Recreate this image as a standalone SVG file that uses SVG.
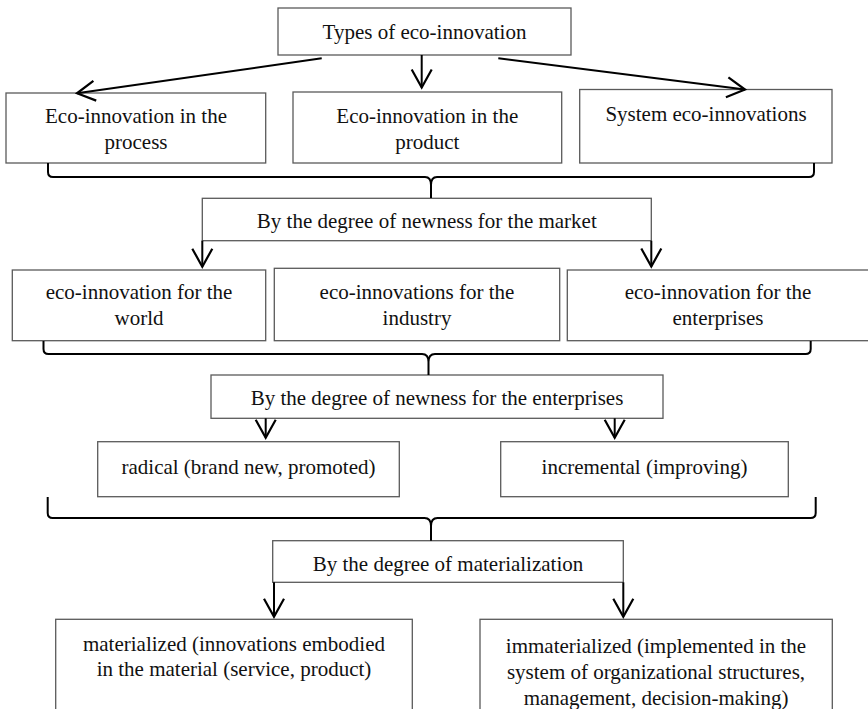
<svg xmlns="http://www.w3.org/2000/svg" width="868" height="709" viewBox="0 0 868 709">
<style>
  .box{fill:#fff;stroke:#5a5a5a;stroke-width:1.3}
  .t{font-family:'Liberation Serif',Tinos,'Times New Roman',Times,'DejaVu Serif',serif;font-size:21px;fill:#111;text-anchor:middle}
  .c{fill:none;stroke:#000;stroke-width:2}
</style>
<defs>
  <marker id="v" viewBox="-21 -12 24 24" refX="0" refY="0" markerWidth="24" markerHeight="24" markerUnits="userSpaceOnUse" orient="auto">
    <path d="M-18,-10 L0,0 L-18,10" fill="none" stroke="#000" stroke-width="2.2"/>
  </marker>
</defs>
<rect width="868" height="709" fill="#fff"/>

<g id="types">
  <rect class="box" x="278" y="8" width="293" height="47"/>
  <text class="t" x="424.5" y="38.5" font-family="Liberation Serif, serif">Types of eco-innovation</text>
</g>
<g id="process">
  <rect class="box" x="6" y="93" width="259.7" height="70"/>
  <text class="t" x="136" y="123">Eco-innovation in the</text>
  <text class="t" x="136" y="148.5">process</text>
</g>
<g id="product">
  <rect class="box" x="293" y="92" width="268.7" height="71"/>
  <text class="t" x="427.3" y="123">Eco-innovation in the</text>
  <text class="t" x="427.3" y="148.5">product</text>
</g>
<g id="system">
  <rect class="box" x="579.7" y="89.5" width="252.3" height="73.5"/>
  <text class="t" x="706" y="121">System eco-innovations</text>
</g>

<g id="market">
  <rect class="box" x="202.3" y="198.3" width="449" height="42.4"/>
  <text class="t" x="426.8" y="227.5">By the degree of newness for the market</text>
</g>
<g id="world">
  <rect class="box" x="12.3" y="270" width="253.4" height="70.7"/>
  <text class="t" x="139" y="298.5">eco-innovation for the</text>
  <text class="t" x="139" y="324.5">world</text>
</g>
<g id="industry">
  <rect class="box" x="274.3" y="268.3" width="285.4" height="72.4"/>
  <text class="t" x="417" y="298.5">eco-innovations for the</text>
  <text class="t" x="417" y="324.5">industry</text>
</g>
<g id="enterprises">
  <rect class="box" x="567.3" y="270" width="302" height="70.7"/>
  <text class="t" x="718" y="298.5">eco-innovation for the</text>
  <text class="t" x="718" y="324.5">enterprises</text>
</g>

<g id="newness-enterprises">
  <rect class="box" x="211" y="375" width="452" height="43.3"/>
  <text class="t" x="437" y="405">By the degree of newness for the enterprises</text>
</g>
<g id="radical">
  <rect class="box" x="97.7" y="441.7" width="301.6" height="55"/>
  <text class="t" x="248.5" y="473.5">radical (brand new, promoted)</text>
</g>
<g id="incremental">
  <rect class="box" x="500.7" y="441.7" width="287.6" height="55"/>
  <text class="t" x="644.5" y="473.5">incremental (improving)</text>
</g>

<g id="materialization">
  <rect class="box" x="272.7" y="540.7" width="350.6" height="41.6"/>
  <text class="t" x="448" y="570.5">By the degree of materialization</text>
</g>
<g id="materialized">
  <rect class="box" x="55.7" y="619.3" width="356.6" height="100"/>
  <text class="t" x="234" y="651">materialized (innovations embodied</text>
  <text class="t" x="234" y="676">in the material (service, product)</text>
</g>
<g id="immaterialized">
  <rect class="box" x="480" y="619.3" width="352.3" height="100"/>
  <text class="t" x="656" y="653">immaterialized (implemented in the</text>
  <text class="t" x="656" y="679">system of organizational structures,</text>
  <text class="t" x="656" y="705">management, decision-making)</text>
</g>

<g id="connectors">
  <path class="c" d="M321.7,58.3 L77,93.3" marker-end="url(#v)"/>
  <path class="c" d="M421.7,55 L421.7,87.5" marker-end="url(#v)"/>
  <path class="c" d="M498.3,58.3 L745,89.5" marker-end="url(#v)"/>
  <path class="c" d="M48,163 L48,172 Q48,177 53,177 L425,177 Q431,177 431,185 L431,198 M431,185 Q431,177 437,177 L809,177 Q814,177 814,172 L814,163"/>
  <path class="c" d="M202.3,240.7 L202.3,266.7" marker-end="url(#v)"/>
  <path class="c" d="M651.3,240.7 L651.3,266.5" marker-end="url(#v)"/>
  <path class="c" d="M43.5,341 L43.5,349 Q43.5,354 48.5,354 L422,354 Q428.5,354 428.5,362 L428.5,375 M428.5,362 Q428.5,354 435,354 L805.5,354 Q810.7,354 810.7,349 L810.7,341"/>
  <path class="c" d="M265.7,418.3 L265.7,437.7" marker-end="url(#v)"/>
  <path class="c" d="M614.7,418.3 L614.7,437.7" marker-end="url(#v)"/>
  <path class="c" d="M47.7,497 L47.7,513 Q47.7,518 52.7,518 L424.5,518 Q431,518 431,526 L431,540.7 M431,526 Q431,518 437.5,518 L810.5,518 Q815.7,518 815.7,513 L815.7,497"/>
  <path class="c" d="M274,582.3 L274,616.7" marker-end="url(#v)"/>
  <path class="c" d="M623.3,582.3 L623.3,616.7" marker-end="url(#v)"/>
</g>
</svg>
